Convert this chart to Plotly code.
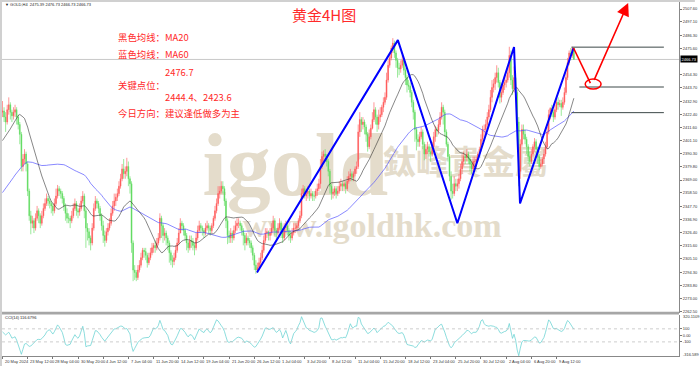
import numpy as np
import plotly.graph_objects as go

# ---------------- data (H4 bars, 20 May 20:00 .. 13 Aug 08:00) ----------------
prior_closes = [2323,
    2320, 2318, 2322, 2316, 2312, 2314,
    2316, 2312, 2310, 2306, 2314, 2309,
    2310, 2312, 2316, 2322, 2338, 2346,
    2350, 2358, 2372, 2368, 2362, 2360,
    2360, 2352, 2348, 2340, 2338, 2336,
    2338, 2340, 2346, 2352, 2356, 2358,
    2360, 2362, 2366, 2372, 2384, 2386,
    2390, 2386, 2380, 2376, 2378, 2377,
    2378, 2380, 2388, 2396, 2410, 2415,
    2438, 2444, 2436, 2428, 2424]

closes = [2425,
    2420, 2416, 2426, 2430, 2424, 2421,
    2424, 2426, 2420, 2414, 2406, 2380,
    2386, 2390, 2382, 2360, 2340, 2334,
    2336, 2330, 2338, 2344, 2340, 2334,
    2340, 2346, 2350, 2354, 2352, 2350,
    2348, 2344, 2350, 2356, 2362, 2360,
    2358, 2354, 2348, 2342, 2338, 2338,
    2336, 2340, 2346, 2350, 2344, 2343,
    2346, 2352, 2356, 2344, 2330, 2327,
    2322, 2318, 2330, 2346, 2352, 2350,
    2346, 2340, 2332, 2324, 2320, 2327,
    2330, 2334, 2342, 2348, 2352, 2355,
    2358, 2364, 2370, 2378, 2374, 2376,
    2380, 2370, 2366, 2318, 2296, 2294,
    2290, 2296, 2300, 2306, 2312, 2311,
    2308, 2302, 2306, 2310, 2314, 2316,
    2314, 2318, 2322, 2338, 2332, 2324,
    2326, 2322, 2318, 2310, 2304, 2303,
    2306, 2312, 2318, 2326, 2334, 2332,
    2328, 2324, 2318, 2314, 2320, 2319,
    2316, 2314, 2322, 2328, 2332, 2330,
    2328, 2326, 2330, 2332, 2330, 2328,
    2332, 2338, 2344, 2350, 2358, 2360,
    2364, 2362, 2352, 2336, 2324, 2322,
    2326, 2322, 2328, 2332, 2334, 2334,
    2332, 2328, 2324, 2318, 2322, 2320,
    2318, 2314, 2308, 2300, 2296, 2298,
    2302, 2306, 2312, 2320, 2326, 2327,
    2324, 2326, 2330, 2336, 2328, 2326,
    2330, 2334, 2328, 2322, 2330, 2332,
    2328, 2324, 2322, 2326, 2330, 2330,
    2332, 2336, 2340, 2358, 2362, 2356,
    2358, 2360, 2356, 2358, 2356, 2356,
    2360, 2362, 2366, 2380, 2388, 2390,
    2388, 2384, 2376, 2364, 2358, 2359,
    2362, 2358, 2360, 2364, 2366, 2364,
    2366, 2362, 2368, 2372, 2374, 2371,
    2374, 2378, 2380, 2408, 2418, 2414,
    2416, 2412, 2406, 2396, 2404, 2411,
    2418, 2426, 2420, 2414, 2420, 2422,
    2428, 2432, 2436, 2450, 2462, 2468,
    2476, 2480, 2472, 2466, 2460, 2459,
    2462, 2466, 2458, 2452, 2446, 2445,
    2440, 2432, 2424, 2410, 2402, 2400,
    2404, 2408, 2398, 2390, 2394, 2396,
    2392, 2390, 2396, 2404, 2410, 2409,
    2414, 2420, 2428, 2424, 2408, 2398,
    2388, 2372, 2360, 2358, 2366, 2364,
    2366, 2370, 2378, 2384, 2388, 2387,
    2390, 2386, 2382, 2378, 2384, 2384,
    2386, 2390, 2394, 2402, 2410, 2410,
    2414, 2420, 2426, 2436, 2444, 2447,
    2452, 2456, 2448, 2436, 2440, 2446,
    2448, 2450, 2456, 2470, 2450, 2443,
    2452, 2440, 2416, 2376, 2398, 2410,
    2406, 2402, 2396, 2388, 2384, 2390,
    2396, 2400, 2394, 2388, 2380, 2382,
    2386, 2390, 2396, 2408, 2422, 2427,
    2424, 2420, 2426, 2432, 2430, 2431,
    2428, 2432, 2440, 2452, 2464, 2472,
    2470, 2475.39, 2466.73]

highs = [2433,
    2428, 2424, 2430, 2436, 2432, 2426,
    2428, 2430, 2428, 2422, 2416, 2408,
    2390, 2394, 2392, 2384, 2362, 2344,
    2340, 2338, 2342, 2348, 2346, 2342,
    2344, 2350, 2354, 2358, 2356, 2354,
    2352, 2350, 2354, 2362, 2365, 2364,
    2362, 2360, 2356, 2350, 2346, 2342,
    2340, 2344, 2350, 2354, 2352, 2346,
    2350, 2356, 2360, 2358, 2346, 2334,
    2330, 2324, 2334, 2350, 2356, 2354,
    2352, 2348, 2342, 2336, 2328, 2330,
    2334, 2338, 2346, 2352, 2358, 2358,
    2362, 2368, 2374, 2382, 2386, 2380,
    2387, 2384, 2372, 2368, 2320, 2300,
    2296, 2300, 2304, 2310, 2314, 2314,
    2314, 2310, 2310, 2314, 2318, 2318,
    2320, 2322, 2326, 2342, 2340, 2334,
    2330, 2328, 2324, 2320, 2312, 2308,
    2310, 2316, 2322, 2330, 2338, 2336,
    2334, 2330, 2326, 2320, 2324, 2324,
    2322, 2318, 2326, 2332, 2336, 2334,
    2332, 2330, 2334, 2336, 2334, 2332,
    2334, 2340, 2348, 2354, 2364, 2364,
    2368, 2368, 2364, 2354, 2338, 2328,
    2330, 2328, 2332, 2336, 2338, 2338,
    2336, 2334, 2330, 2326, 2326, 2324,
    2322, 2320, 2316, 2310, 2304, 2302,
    2306, 2310, 2316, 2324, 2330, 2330,
    2328, 2330, 2334, 2340, 2338, 2330,
    2334, 2338, 2336, 2330, 2334, 2336,
    2334, 2330, 2328, 2330, 2334, 2334,
    2334, 2338, 2344, 2362, 2365, 2364,
    2362, 2364, 2362, 2362, 2360, 2360,
    2362, 2366, 2370, 2386, 2392, 2393,
    2394, 2390, 2386, 2378, 2366, 2362,
    2364, 2364, 2364, 2368, 2370, 2368,
    2368, 2368, 2372, 2376, 2378, 2376,
    2376, 2380, 2384, 2414, 2424, 2420,
    2420, 2418, 2414, 2408, 2410, 2414,
    2424, 2432, 2428, 2422, 2426, 2428,
    2430, 2436, 2440, 2456, 2466, 2470,
    2478, 2484, 2482, 2474, 2468, 2464,
    2466, 2470, 2468, 2460, 2454, 2450,
    2448, 2442, 2434, 2426, 2412, 2406,
    2408, 2412, 2410, 2400, 2398, 2400,
    2398, 2396, 2400, 2408, 2413, 2412,
    2418, 2424, 2432, 2430, 2426, 2410,
    2400, 2390, 2376, 2366, 2372, 2370,
    2370, 2374, 2382, 2390, 2392, 2390,
    2394, 2392, 2388, 2384, 2388, 2388,
    2388, 2392, 2396, 2406, 2413, 2414,
    2418, 2424, 2430, 2442, 2450, 2451,
    2456, 2462, 2460, 2450, 2444, 2450,
    2452, 2454, 2460, 2477, 2474, 2454,
    2461, 2456, 2442, 2420, 2402, 2414,
    2414, 2410, 2404, 2398, 2392, 2394,
    2398, 2403, 2402, 2396, 2390, 2386,
    2388, 2394, 2400, 2412, 2426, 2428,
    2430, 2426, 2430, 2437, 2436, 2434,
    2434, 2436, 2444, 2456, 2468, 2474,
    2476, 2477, 2476.73]

lows = [2420,
    2416, 2408, 2414, 2422, 2418, 2416,
    2418, 2420, 2414, 2410, 2398, 2376,
    2376, 2382, 2376, 2356, 2336, 2325,
    2330, 2326, 2328, 2336, 2334, 2330,
    2332, 2338, 2344, 2348, 2348, 2346,
    2342, 2340, 2342, 2348, 2354, 2356,
    2354, 2350, 2344, 2336, 2334, 2334,
    2330, 2334, 2338, 2344, 2340, 2338,
    2340, 2344, 2350, 2338, 2314, 2320,
    2316, 2312, 2316, 2328, 2344, 2346,
    2342, 2336, 2328, 2318, 2315, 2318,
    2324, 2328, 2332, 2340, 2344, 2348,
    2352, 2356, 2362, 2368, 2370, 2370,
    2372, 2364, 2358, 2310, 2287, 2288,
    2287, 2288, 2294, 2298, 2304, 2306,
    2304, 2298, 2300, 2304, 2308, 2310,
    2310, 2312, 2316, 2320, 2322, 2318,
    2320, 2316, 2312, 2302, 2300, 2298,
    2300, 2304, 2310, 2316, 2326, 2328,
    2324, 2320, 2312, 2310, 2312, 2314,
    2312, 2308, 2312, 2320, 2326, 2326,
    2324, 2322, 2324, 2328, 2326, 2324,
    2326, 2330, 2336, 2342, 2348, 2354,
    2358, 2358, 2348, 2330, 2317, 2318,
    2318, 2318, 2320, 2326, 2328, 2330,
    2328, 2324, 2316, 2312, 2316, 2316,
    2314, 2310, 2304, 2296, 2293, 2294,
    2296, 2300, 2304, 2310, 2318, 2322,
    2320, 2320, 2324, 2328, 2324, 2320,
    2324, 2328, 2322, 2318, 2320, 2326,
    2324, 2320, 2318, 2320, 2324, 2326,
    2328, 2330, 2334, 2338, 2354, 2354,
    2352, 2354, 2352, 2354, 2352, 2352,
    2354, 2356, 2360, 2362, 2378, 2384,
    2384, 2380, 2372, 2358, 2353, 2354,
    2356, 2354, 2356, 2358, 2360, 2360,
    2360, 2358, 2360, 2366, 2368, 2368,
    2368, 2372, 2374, 2378, 2404, 2408,
    2410, 2406, 2400, 2392, 2394, 2402,
    2410, 2416, 2414, 2408, 2410, 2416,
    2420, 2424, 2430, 2434, 2448, 2460,
    2466, 2472, 2468, 2460, 2452, 2454,
    2456, 2460, 2454, 2446, 2440, 2442,
    2436, 2428, 2418, 2400, 2393, 2396,
    2396, 2402, 2394, 2385, 2386, 2390,
    2388, 2384, 2388, 2394, 2400, 2404,
    2406, 2412, 2418, 2414, 2404, 2396,
    2384, 2368, 2353, 2354, 2356, 2360,
    2360, 2362, 2368, 2374, 2380, 2382,
    2384, 2382, 2376, 2374, 2376, 2380,
    2380, 2384, 2388, 2392, 2400, 2404,
    2406, 2412, 2418, 2424, 2432, 2440,
    2442, 2448, 2444, 2431, 2432, 2438,
    2442, 2444, 2448, 2452, 2446, 2438,
    2440, 2434, 2410, 2364, 2370, 2396,
    2402, 2398, 2390, 2382, 2380, 2382,
    2388, 2392, 2390, 2382, 2377, 2378,
    2380, 2382, 2388, 2394, 2406, 2418,
    2420, 2416, 2418, 2424, 2426, 2428,
    2421, 2426, 2430, 2438, 2450, 2462,
    2466, 2468, 2466.73]

first_open = 2424  # open of the first visible bar

x_tick_bars = [0, 16, 32, 48, 64, 80, 96, 112, 128, 144, 160, 176, 192, 208,
               224, 240, 256, 272, 288, 304, 320, 336, 352]
x_tick_labels = ["20 May 2024", "23 May 12:00", "28 May 04:00", "30 May 20:00",
                 "4 Jun 12:00", "7 Jun 04:00", "11 Jun 20:00", "14 Jun 12:00",
                 "19 Jun 04:00", "21 Jun 20:00", "26 Jun 12:00", "1 Jul 04:00",
                 "3 Jul 20:00", "8 Jul 12:00", "11 Jul 04:00", "15 Jul 20:00",
                 "18 Jul 12:00", "23 Jul 04:00", "25 Jul 20:00", "30 Jul 12:00",
                 "2 Aug 04:00", "6 Aug 20:00", "9 Aug 12:00"]

y_tick_values = [2507.60, 2497.10, 2486.30, 2475.60, 2454.30, 2443.70, 2432.90,
                 2422.40, 2411.60, 2401.10, 2390.30, 2379.80, 2369.00, 2358.50,
                 2347.70, 2336.90, 2326.40, 2315.60, 2305.10, 2294.30, 2283.80,
                 2273.00, 2262.50]
cci_top, cci_bottom = 320.1109, -316.589
cci_tick_values = [100, 0, -100]
cci_tick_labels = ["100", "0.00", "-100"]

current_price = 2466.73
key_levels = [2476.7, 2444.4, 2423.6]
key_level_start = [361.5, 366.5, 361.5]
key_level_end = 420.2

zigzag_bars = [161.7, 251.2, 289.0, 325.0, 328.8, 362.8]
zigzag_prices = [2294.0, 2482.4, 2334.0, 2476.8, 2350.0, 2476.0]
red_bars = [362.8, 373.5]
red_prices = [2476.0, 2447.5]
arrow_from = (375.5, 2449.0)
arrow_to = (397.5, 2512.5)
ellipse_box = (370.2, 2442.7, 380.3, 2450.8)

# ---------------- derived series ----------------
n = len(closes)
bars = np.arange(n)
opens = [first_open] + closes[:-1]
highs_c = [max(h, o, c) for h, o, c in zip(highs, opens, closes)]
lows_c = [min(l, o, c) for l, o, c in zip(lows, opens, closes)]

all_close = np.array(prior_closes + closes, dtype=float)
npre = len(prior_closes)

def sma(a, p):
    out = np.full(len(a), np.nan)
    cs = np.cumsum(np.insert(a, 0, 0.0))
    out[p - 1:] = (cs[p:] - cs[:-p]) / p
    return out

ma20 = sma(all_close, 20)[npre:]
ma60 = sma(all_close, 60)[npre:]

tp = np.array(prior_closes + [(h + l + c) / 3 for h, l, c in zip(highs_c, lows_c, closes)], dtype=float)
cci = np.full(len(tp), np.nan)
for i in range(13, len(tp)):
    w = tp[i - 13:i + 1]
    m = w.mean()
    md = np.mean(np.abs(w - m))
    cci[i] = (tp[i] - m) / (0.015 * md) if md > 0 else 0
cci = cci[npre:]

# ---------------- layout geometry ----------------
L, R, T, B = 2, 684, 2, 356
W, H = R - L, B - T
def px(x):
    return (x - L) / W
def py(y):
    return (B - y) / H

main_dom = [py(312.5), 1.0]
cci_dom = [0.0, py(314.5)]
xr = [-0.3, 429.8]

fig = go.Figure()

# watermark (below traces)
wm_color = "#e4dccb"
shapes = [
    dict(type="rect", xref="paper", yref="paper", x0=px(200), x1=px(395), y0=py(205), y1=py(105),
         line=dict(width=0), layer="below",
         label=dict(text="igold", textposition="middle center",
                    font=dict(family="Liberation Serif", size=88, color=wm_color, weight="bold"))),
    dict(type="rect", xref="paper", yref="paper", x0=px(388), x1=px(550), y0=py(190), y1=py(140),
         line=dict(width=0), layer="below",
         label=dict(text="鈦峰貴金屬", textposition="middle center",
                    font=dict(family="Noto Sans CJK TC", size=33, color=wm_color, weight="bold"))),
    dict(type="rect", xref="paper", yref="paper", x0=px(230), x1=px(520), y0=py(235), y1=py(207),
         line=dict(width=0), layer="below",
         label=dict(text="www.igoldhk.com", textposition="middle center",
                    font=dict(family="Liberation Serif", size=34, color=wm_color, weight="bold"))),
]

fig.add_trace(go.Candlestick(
    x=bars, open=opens, high=highs_c, low=lows_c, close=closes,
    xaxis="x", yaxis="y", whiskerwidth=0,
    increasing=dict(line=dict(color="#ff6a6a", width=0.7), fillcolor="#ff1010"),
    decreasing=dict(line=dict(color="#6ee06e", width=0.7), fillcolor="#1ec81e"),
    showlegend=False, hoverinfo="skip"))

fig.add_trace(go.Scatter(x=bars, y=ma60, mode="lines", xaxis="x", yaxis="y",
                         line=dict(color="rgba(80,80,255,0.85)", width=0.8),
                         showlegend=False, hoverinfo="skip"))
fig.add_trace(go.Scatter(x=bars, y=ma20, mode="lines", xaxis="x", yaxis="y",
                         line=dict(color="rgba(40,40,40,0.8)", width=0.7),
                         showlegend=False, hoverinfo="skip"))

fig.add_trace(go.Scatter(x=zigzag_bars, y=zigzag_prices, mode="lines", xaxis="x", yaxis="y",
                         line=dict(color="#0000ff", width=2),
                         showlegend=False, hoverinfo="skip"))
fig.add_trace(go.Scatter(x=red_bars, y=red_prices, mode="lines", xaxis="x", yaxis="y",
                         line=dict(color="#ff0000", width=1.6),
                         showlegend=False, hoverinfo="skip"))

fig.add_trace(go.Scatter(x=bars, y=cci, mode="lines", xaxis="x2", yaxis="y2",
                         line=dict(color="#6fd4d4", width=0.8),
                         showlegend=False, hoverinfo="skip"))

# price line and key levels
shapes.append(dict(type="line", xref="paper", yref="y", x0=0, x1=1, y0=current_price, y1=current_price,
                   line=dict(color="#c8c8c8", width=1), layer="below"))
for lv, st in zip(key_levels, key_level_start):
    shapes.append(dict(type="line", xref="x", yref="y", x0=st, x1=key_level_end, y0=lv, y1=lv,
                       line=dict(color="#3c4848", width=1)))
shapes.append(dict(type="circle", xref="x", yref="y",
                   x0=ellipse_box[0], y0=ellipse_box[1], x1=ellipse_box[2], y1=ellipse_box[3],
                   line=dict(color="#ff0000", width=1.5)))
# CCI levels
for lv in (100, -100):
    shapes.append(dict(type="line", xref="paper", yref="y2", x0=0, x1=1, y0=lv, y1=lv,
                       line=dict(color="#c0c0c0", width=0.8, dash="dot")))
# frame
shapes += [
    dict(type="rect", xref="paper", yref="paper", x0=px(0), x1=px(700), y0=py(2), y1=py(0),
         line=dict(width=0), fillcolor="#d0d0d0"),
    dict(type="rect", xref="paper", yref="paper", x0=px(0), x1=px(2), y0=py(366), y1=py(0),
         line=dict(width=0), fillcolor="#d0d0d0"),
    dict(type="rect", xref="paper", yref="paper", x0=0, x1=1, y0=py(314.5), y1=py(311.8),
         line=dict(width=0), fillcolor="#a6a6a6"),
]

red = "#ff2a2a"
cjk = "Noto Sans CJK SC"
ann = []
def text(x, y, s, size=9.4, color=red, anchor="left", family=cjk):
    ann.append(dict(xref="paper", yref="paper", x=px(x), y=py(y), text=s, showarrow=False,
                    xanchor=anchor, yanchor="middle",
                    font=dict(family=family, size=size, color=color)))

text(326, 14.5, "黄金4H图", size=15, anchor="center")
text(117, 37, "黑色均线：MA20")
text(117, 53.5, "蓝色均线：MA60")
text(164, 72, "2476.7")
text(117, 85, "关键点位：")
text(164, 97, "2444.4、2423.6")
text(117, 113, "今日方向：建议逢低做多为主")

small = "Liberation Sans"
text(3, 4.5, "▼ GOLD,H4  2475.39 2476.73 2466.73 2466.73", size=4, color="#222", family=small)
text(3, 317.5, "CCI(14) 116.6796", size=4, color="#222", family=small)
# CCI panel extreme labels (top / bottom of the sub-window scale)
text(686, 316.8, f"{cci_top:.4f}", size=4, color="#333", family=small)
text(686, 354.5, f"{cci_bottom:.3f}", size=4, color="#333", family=small)

for b, lab in zip(x_tick_bars, x_tick_labels):
    ann.append(dict(xref="x2", yref="paper", x=b, y=py(361.5), text=lab, showarrow=False,
                    xanchor="left", yanchor="middle", xshift=0.5,
                    font=dict(family=small, size=4, color="#333")))

# current price tag
ann.append(dict(xref="paper", yref="y", x=1.0, y=current_price, text="2466.73", showarrow=False,
                xanchor="left", yanchor="middle", xshift=1, bgcolor="#000000", borderpad=0.5,
                font=dict(family=small, size=4, color="#ffffff")))

# red arrow
ann.append(dict(xref="x", yref="y", axref="x", ayref="y",
                x=arrow_to[0], y=arrow_to[1], ax=arrow_from[0], ay=arrow_from[1],
                text="", showarrow=True, arrowhead=2, arrowsize=1.6, arrowwidth=1.6,
                arrowcolor="#ff0000"))

axis_font = dict(family=small, size=4, color="#333")
fig.update_layout(
    width=700, height=366,
    margin=dict(l=L, r=700 - R, t=T, b=366 - B),
    paper_bgcolor="white", plot_bgcolor="white",
    showlegend=False, hovermode=False,
    xaxis=dict(domain=[0, 1], range=xr, anchor="y", showticklabels=False, ticks="",
               showgrid=False, zeroline=False, rangeslider=dict(visible=False), fixedrange=True),
    xaxis2=dict(domain=[0, 1], range=xr, anchor="y2", matches="x", showticklabels=False,
                tickvals=x_tick_bars, ticks="outside", ticklen=2, tickcolor="#777",
                showgrid=False, zeroline=False, showline=True, linecolor="#888", linewidth=1),
    yaxis=dict(domain=main_dom, range=[2261.6, 2513.3], side="right", tickvals=y_tick_values,
               ticktext=[f"{v:.2f}" for v in y_tick_values], ticks="outside", ticklen=2,
               tickcolor="#777", tickfont=axis_font, showgrid=False, zeroline=False,
               showline=True, linecolor="#888", linewidth=1),
    yaxis2=dict(domain=cci_dom, range=[cci_bottom, cci_top], side="right",
                tickvals=cci_tick_values, ticktext=cci_tick_labels, ticks="outside", ticklen=2,
                tickcolor="#777", tickfont=axis_font, showgrid=False, zeroline=False,
                showline=True, linecolor="#888", linewidth=1),
    shapes=shapes, annotations=ann,
)

fig.write_html("out.html")
